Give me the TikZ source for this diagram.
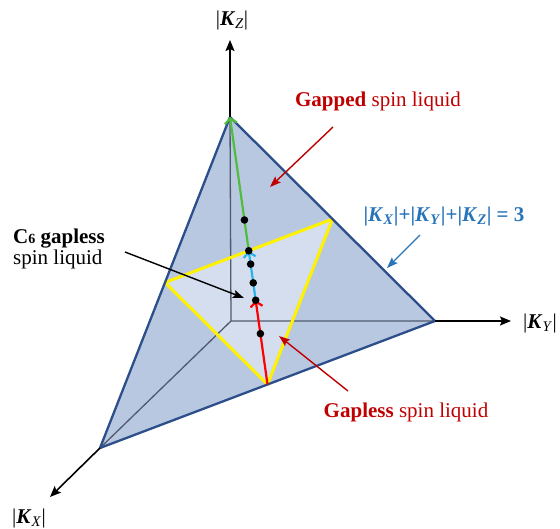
\documentclass[tikz,border=0pt]{standalone}
\usepackage{fontspec}
\setmainfont{Liberation Serif}
\usetikzlibrary{arrows.meta,calc}
\definecolor{edgeblue}{RGB}{44,78,138}
\definecolor{fillblue}{RGB}{184,200,224}
\definecolor{innerfill}{RGB}{212,222,238}
\definecolor{darkred}{RGB}{192,0,0}
\definecolor{eqblue}{RGB}{40,116,186}
\definecolor{greenl}{RGB}{80,190,60}
\definecolor{cyanl}{RGB}{40,180,235}
\definecolor{innerline}{RGB}{80,90,110}
\begin{document}
\begin{tikzpicture}[x=1pt,y=-1pt,
  font=\fontsize{21}{21.5}\selectfont,
  axisline/.style={black, line width=1.6, -{Stealth[length=11pt,width=9pt,inset=2pt]}},
  callout/.style={line width=1.4, -{Stealth[length=11pt,width=8pt,inset=2pt]}},
  medline/.style={line width=2.2, -{Straight Barb[length=5pt,width=12pt]}},
  lbl/.style={inner sep=0pt},
  dot/.style={black}
]
\useasboundingbox (0,0) rectangle (560,529);
% vertices
\coordinate (O) at (231,321);
\coordinate (Z) at (230,117);
\coordinate (Y) at (435,321);
\coordinate (X) at (100,448);
\coordinate (mZX) at ($(Z)!0.5!(X)$);
\coordinate (mZY) at ($(Z)!0.5!(Y)$);
\coordinate (mXY) at ($(X)!0.5!(Y)$);
\foreach \t [count=\i] in {0.385,0.5,0.55,0.62,0.685,0.81}
  \coordinate (d\i) at ($(Z)!\t!(mXY)$);
\coordinate (ztip) at (230,40);
\coordinate (ytip) at (511,321);
\coordinate (xtip) at (50,497);
% faces
\fill[fillblue] (X)--(Y)--(Z)--cycle;
\fill[innerfill] (mZX)--(mZY)--(mXY)--cycle;
\draw[innerline, line width=1.3] (O)--(Z) (O)--(Y) (O)--(X);
\draw[yellow, line width=3, line join=round] (mZX)--(mZY)--(mXY)--cycle;
\draw[edgeblue, line width=2.3, line join=round] (X)--(Y)--(Z)--cycle;
% axes
\draw[axisline] (Z)--(ztip);
\draw[axisline] (Y)--(ytip);
\draw[axisline] (X)--(xtip);
% median path
\draw[greenl, medline] (d2)--(Z);
\draw[cyanl, medline] (d5)--(d2);
\draw[red, medline] (mXY)--(d5);
\foreach \i in {1,...,6} \fill[dot] (d\i) circle (3.8);
% labels
\node[lbl] (kz) at (232,20) {|\textbf{\textit{K}}\textsubscript{\textit{Z}}|};
\node[lbl] (ky) at (540,323) {|\textbf{\textit{K}}\textsubscript{\textit{Y}}|};
\node[lbl] (kx) at (29,518) {|\textbf{\textit{K}}\textsubscript{\textit{X}}|};
\node[lbl, text=darkred] (gapped) at (378,101) {\textbf{Gapped} spin liquid};
\node[lbl, text=eqblue] (eq) at (444,216) {\textbf{|\textit{K}\textsubscript{\textit{X}}|+|\textit{K}\textsubscript{\textit{Y}}|+|\textit{K}\textsubscript{\textit{Z}}| = 3}};
\node[lbl, anchor=west, align=left] (c6) at (13,249) {\textbf{C{\fontsize{14}{14}\selectfont 6} gapless}\\spin liquid};
\node[lbl, text=darkred] (gapless) at (406,412) {\textbf{Gapless} spin liquid};
% callouts
\coordinate (gs) at (333,127); \coordinate (ge) at (270,187);
\coordinate (es) at (420,235); \coordinate (ee) at (387,268);
\coordinate (cs) at (125,252); \coordinate (ce) at (244,298);
\coordinate (ls) at (348,391); \coordinate (le) at (279,336);
\draw[callout, darkred] (gs)--(ge);
\draw[callout, eqblue] (es)--(ee);
\draw[callout, black] (cs)--(ce);
\draw[callout, darkred] (ls)--(le);
\end{tikzpicture}
\end{document}
